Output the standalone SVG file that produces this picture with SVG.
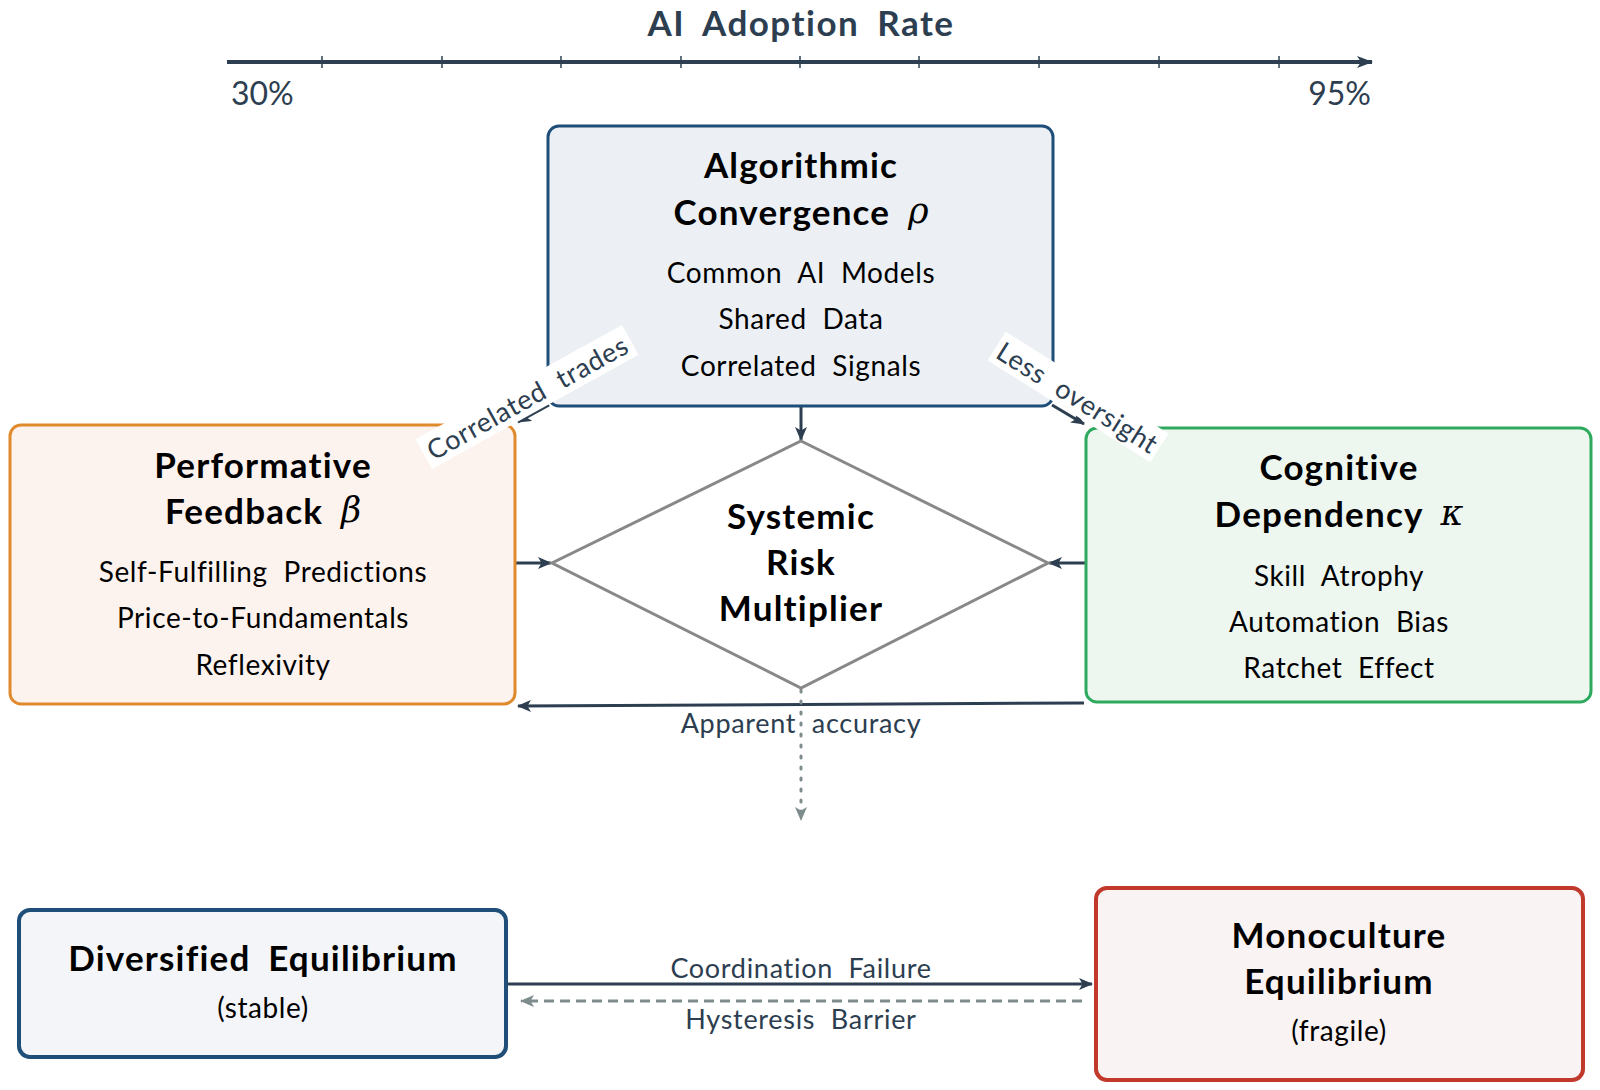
<svg xmlns="http://www.w3.org/2000/svg" width="1600" height="1090" viewBox="0 0 1600 1090">
<defs>
<style>
text{font-family:Lato,"Open Sans","DejaVu Sans",sans-serif;text-anchor:middle;dominant-baseline:central}
.ttl{font-size:35px;font-weight:bold;fill:#000;letter-spacing:1.2px;word-spacing:8px}
.itm{font-size:28px;fill:#000;letter-spacing:0.6px;word-spacing:8px}
.math{font-family:"DejaVu Serif","Liberation Serif",serif;font-style:italic;font-weight:normal;letter-spacing:0}
.lbl{font-size:27px;fill:#2c3e50;letter-spacing:0.7px;word-spacing:8px}
.conn{stroke:#2c3e50;stroke-width:3;fill:none;marker-end:url(#ah)}
.gray{stroke:#7f8c8d;stroke-width:3;fill:none;marker-end:url(#ahg)}
</style>
<marker id="ah" viewBox="0 0 14 12" refX="13" refY="6" markerWidth="14" markerHeight="12" markerUnits="userSpaceOnUse" orient="auto"><path d="M0,0 L14,6 L0,12 L3.5,6 Z" fill="#2c3e50"/></marker>
<marker id="ahg" viewBox="0 0 14 12" refX="13" refY="6" markerWidth="14" markerHeight="12" markerUnits="userSpaceOnUse" orient="auto"><path d="M0,0 L14,6 L0,12 L3.5,6 Z" fill="#7f8c8d"/></marker>
<marker id="ahb" viewBox="0 0 16 12" refX="15" refY="6" markerWidth="16" markerHeight="12" markerUnits="userSpaceOnUse" orient="auto"><path d="M0,0 L16,6 L0,12 L4,6 Z" fill="#2c3e50"/></marker>
</defs>
<rect width="1600" height="1090" fill="#fff"/>

<g id="axis">
<text x="801" y="22" style="font-size:35px;font-weight:bold;fill:#2c3e50;letter-spacing:1.5px;word-spacing:8px">AI Adoption Rate</text>
<line x1="227" y1="62" x2="1372" y2="62" stroke="#2c3e50" stroke-width="4" marker-end="url(#ahb)"/>
<g stroke="#2c3e50" stroke-width="1.5">
<line x1="322" y1="56" x2="322" y2="68"/><line x1="442" y1="56" x2="442" y2="68"/><line x1="561" y1="56" x2="561" y2="68"/>
<line x1="681" y1="56" x2="681" y2="68"/><line x1="800" y1="56" x2="800" y2="68"/><line x1="919" y1="56" x2="919" y2="68"/>
<line x1="1039" y1="56" x2="1039" y2="68"/><line x1="1159" y1="56" x2="1159" y2="68"/><line x1="1279" y1="56" x2="1279" y2="68"/>
</g>
<text x="231" y="92" style="font-size:32px;fill:#2c3e50;text-anchor:start">30%</text>
<text x="1371" y="92" style="font-size:32px;fill:#2c3e50;text-anchor:end">95%</text>
</g>

<g id="connectors">
<line class="conn" x1="801" y1="407" x2="801" y2="440"/>
<line class="conn" x1="515" y1="563" x2="551" y2="563"/>
<line class="conn" x1="1086" y1="563" x2="1049" y2="563"/>
<line class="conn" x1="549" y1="405" x2="518" y2="422"/>
<line class="conn" x1="1052" y1="405" x2="1084" y2="424"/>
<line class="conn" x1="1084" y1="703" x2="518" y2="706"/>
<line class="gray" x1="801" y1="690" x2="801" y2="820" stroke-dasharray="2 9" stroke-linecap="round"/>
<line class="conn" x1="507" y1="984" x2="1092" y2="984"/>
<line class="gray" x1="1082" y1="1001" x2="521" y2="1001" stroke-dasharray="10 6"/>
<text class="lbl" x="801" y="722">Apparent accuracy</text>
<text class="lbl" x="801" y="967">Coordination Failure</text>
<text class="lbl" x="801" y="1018">Hysteresis Barrier</text>
</g>

<g id="algorithmic">
<rect x="548" y="126" width="505" height="280" rx="11" fill="#ecf0f4" stroke="#1f4e79" stroke-width="3"/>
<text class="ttl" x="801" y="164">Algorithmic</text>
<text class="ttl" x="801" y="211">Convergence <tspan class="math">ρ</tspan></text>
<text class="itm" x="801" y="272">Common AI Models</text>
<text class="itm" x="801" y="318">Shared Data</text>
<text class="itm" x="801" y="365">Correlated Signals</text>
</g>

<g id="performative">
<rect x="10" y="425" width="505" height="279" rx="11" fill="#fdf3ee" stroke="#e08a2e" stroke-width="3"/>
<text class="ttl" x="263" y="464">Performative</text>
<text class="ttl" x="263" y="510">Feedback <tspan class="math">β</tspan></text>
<text class="itm" x="263" y="571">Self-Fulfilling Predictions</text>
<text class="itm" x="263" y="617">Price-to-Fundamentals</text>
<text class="itm" x="263" y="664">Reflexivity</text>
</g>

<g id="cognitive">
<rect x="1086" y="428" width="505" height="274" rx="11" fill="#eef6f0" stroke="#2eaa5e" stroke-width="3"/>
<text class="ttl" x="1339" y="466">Cognitive</text>
<text class="ttl" x="1339" y="513">Dependency <tspan class="math">κ</tspan></text>
<text class="itm" x="1339" y="575">Skill Atrophy</text>
<text class="itm" x="1339" y="621">Automation Bias</text>
<text class="itm" x="1339" y="667">Ratchet Effect</text>
</g>

<g id="systemic">
<polygon points="801,441 1048,563 801,688 552,563" fill="#fff" stroke="#888" stroke-width="3"/>
<text class="ttl" x="801" y="515">Systemic</text>
<text class="ttl" x="801" y="561">Risk</text>
<text class="ttl" x="801" y="607">Multiplier</text>
</g>

<g id="label-correlated" transform="translate(527,397) rotate(-29)">
<rect x="-118" y="-17" width="236" height="34" fill="#fff"/>
<text class="lbl" x="0" y="0">Correlated trades</text>
</g>
<g id="label-oversight" transform="translate(1078,397) rotate(32)">
<rect x="-96" y="-17" width="192" height="34" fill="#fff"/>
<text class="lbl" x="0" y="0">Less oversight</text>
</g>

<g id="diversified">
<rect x="19" y="910" width="487" height="147" rx="11" fill="#f3f5f8" stroke="#1f4e79" stroke-width="4"/>
<text class="ttl" x="263" y="957">Diversified Equilibrium</text>
<text class="itm" x="263" y="1007">(stable)</text>
</g>

<g id="monoculture">
<rect x="1096" y="888" width="487" height="192" rx="11" fill="#faf3f3" stroke="#c0392b" stroke-width="4"/>
<text class="ttl" x="1339" y="934">Monoculture</text>
<text class="ttl" x="1339" y="980">Equilibrium</text>
<text class="itm" x="1339" y="1030">(fragile)</text>
</g>
</svg>
